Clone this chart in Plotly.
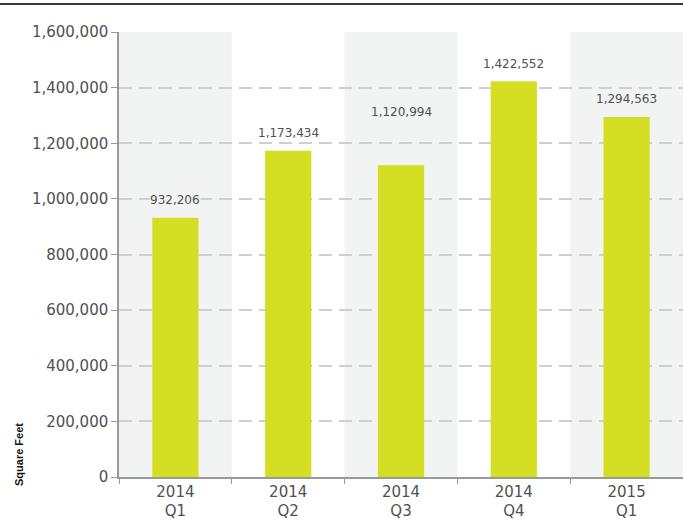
import plotly.graph_objects as go

categories = ["2014<br>Q1", "2014<br>Q2", "2014<br>Q3", "2014<br>Q4", "2015<br>Q1"]
values = [932206, 1173434, 1120994, 1422552, 1294563]
label_text = ["932,206", "1,173,434", "1,120,994", "1,422,552", "1,294,563"]
label_shift = [18, 18, 53, 17, 18]  # style: pixel offset of each data label

BAR_COLOR = "#d4de23"
BAND_COLOR = "#f2f3f3"
TEXT_COLOR = "#505050"
FONT = "DejaVu Sans, sans-serif"

fig = go.Figure()
fig.add_trace(go.Bar(x=categories, y=values, marker=dict(color=BAR_COLOR, line=dict(width=0)),
                     width=0.41, hoverinfo="skip"))

shapes = []
for i in range(0, len(categories), 2):
    shapes.append(dict(type="rect", xref="x", yref="paper", x0=i - 0.5, x1=i + 0.5, y0=0, y1=1,
                       fillcolor=BAND_COLOR, line=dict(width=0), layer="below"))
shapes.append(dict(type="line", xref="paper", yref="paper", x0=-119 / 564, x1=1, y0=473 / 445, y1=473 / 445,
                   line=dict(color="#3a3a35", width=2)))

annotations = []
for i, (c, v, t, s) in enumerate(zip(categories, values, label_text, label_shift)):
    annotations.append(dict(x=c, y=v, text=t, showarrow=False, yanchor="middle", yshift=s,
                            bgcolor=BAND_COLOR if i % 2 == 0 else "white", borderpad=0,
                            font=dict(family=FONT, size=12, color=TEXT_COLOR)))
annotations.append(dict(xref="paper", yref="paper", x=-100 / 564, y=22 / 445, text="<b>Square Feet</b>",
                        textangle=-90, showarrow=False, xanchor="center", yanchor="middle",
                        font=dict(family="Liberation Sans Narrow, Arial Narrow, sans-serif", size=11, color="#111")))

fig.update_layout(
    width=683, height=526,
    margin=dict(l=119, r=0, t=32, b=49),
    paper_bgcolor="white", plot_bgcolor="white",
    showlegend=False,
    shapes=shapes, annotations=annotations,
    font=dict(family=FONT, color=TEXT_COLOR),
    xaxis=dict(type="category", tickson="boundaries", ticks="outside", ticklen=5, tickcolor="#999",
               showline=True, linecolor="#999", linewidth=1.5, showgrid=False,
               tickfont=dict(size=15, color=TEXT_COLOR), range=[-0.5, 4.5]),
    yaxis=dict(range=[0, 1600000], dtick=200000, tickformat=",", ticks="outside", ticklen=6,
               tickcolor="#999", showline=True, linecolor="#999", linewidth=1.5,
               showgrid=True, gridcolor="#cfcfcf", griddash="13px,7px", gridwidth=1.5, zeroline=False,
               tickfont=dict(size=15, color=TEXT_COLOR)),
)

fig.write_html("out.html", config={"displayModeBar": False},
               post_script="document.body.style.margin='0';document.body.style.overflow='hidden';")
